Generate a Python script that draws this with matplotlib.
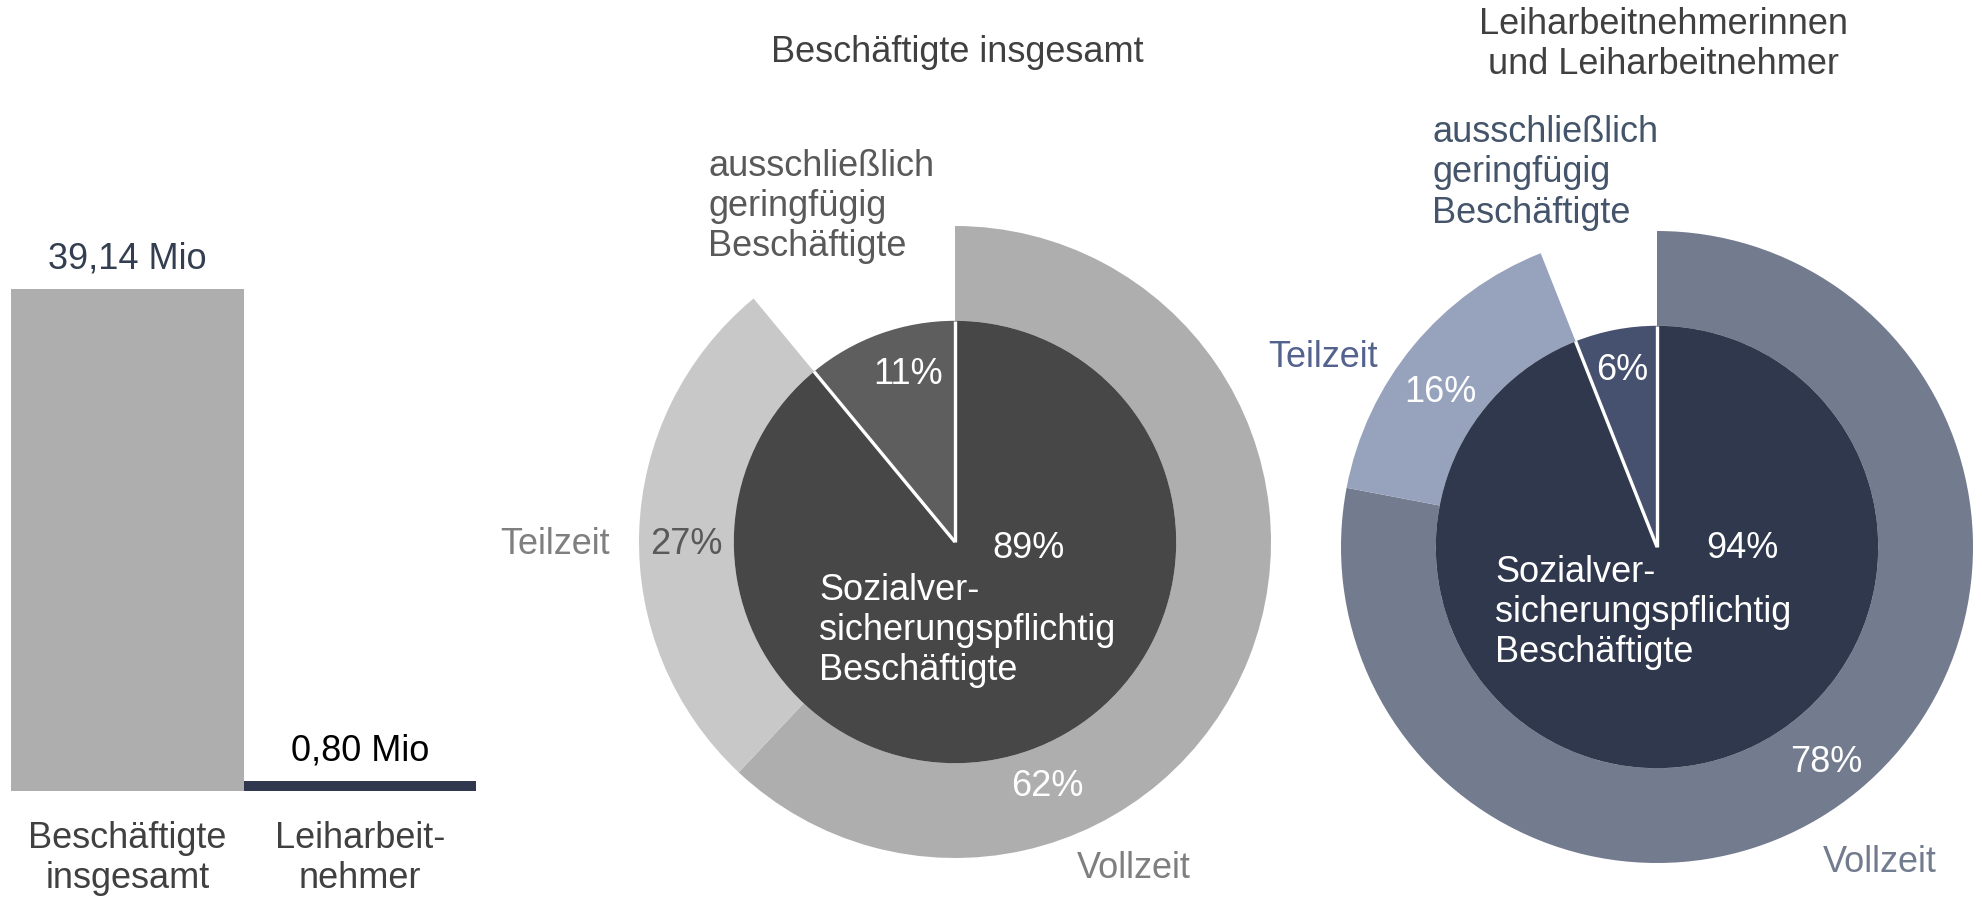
import matplotlib.pyplot as plt
import numpy as np

plt.rcParams['font.family'] = ['Liberation Sans', 'DejaVu Sans']

# Daten
bar_labels = ['Beschäftigte\ninsgesamt', 'Leiharbeit-\nnehmer']
bar_values = [39.14, 0.80]
bar_texts = ['39,14 Mio', '0,80 Mio']

titel_1 = 'Beschäftigte insgesamt'
innen_1 = [89, 11]      # sozialversicherungspflichtig, ausschließlich geringfügig
aussen_1 = [62, 27]     # Vollzeit, Teilzeit

titel_2 = 'Leiharbeitnehmerinnen\nund Leiharbeitnehmer'
innen_2 = [94, 6]
aussen_2 = [78, 16]

W, H = 1982, 901
ZEILE = 40  # Zeilenabstand in Pixeln
fig = plt.figure(figsize=(W / 100, H / 100), dpi=100)


def px_text(x, y, s, **kw):
    # mehrzeilige Texte zeilenweise setzen, y = Mitte des Blocks
    kw.setdefault('fontsize', 26)
    kw.setdefault('ha', 'center')
    kw.setdefault('va', 'center')
    zeilen = s.split('\n')
    y0 = y - ZEILE * (len(zeilen) - 1) / 2
    for k, z in enumerate(zeilen):
        fig.text(x / W, 1 - (y0 + k * ZEILE) / H, z, **kw)


# Balken links
ax = fig.add_axes([11 / W, (H - 791) / H, (476 - 11) / W, (791 - 289) / H])
x = np.arange(len(bar_values))
ax.bar(x, bar_values, width=1.0, color=['#AEAEAE', '#30384D'])
ax.set_xlim(-0.5, 1.5)
ax.set_ylim(0, max(bar_values))
ax.axis('off')
for i, (v, t) in enumerate(zip(bar_values, bar_texts)):
    farbe = '#333F50' if i == 0 else 'black'
    ax.annotate(t, (i, v), xytext=(0, 30), textcoords='offset pixels',
                ha='center', va='center', fontsize=26, color=farbe, annotation_clip=False)
    for k, z in enumerate(bar_labels[i].split('\n')):
        ax.annotate(z, (i, 0), xytext=(0, -47 - k * ZEILE), textcoords='offset pixels',
                    ha='center', va='center', fontsize=26, color='#404040',
                    annotation_clip=False)

R_IN = 0.70


def donut(cx, cy, innen, aussen, farben_innen, farben_aussen):
    r = 316
    pax = fig.add_axes([(cx - r) / W, (H - cy - r) / H, 2 * r / W, 2 * r / H])
    rest = 100 - sum(aussen)
    pax.pie(aussen + [rest], radius=1.0, startangle=90, counterclock=False,
            colors=farben_aussen + ['none'],
            wedgeprops=dict(width=1 - R_IN, linewidth=0))
    pax.pie(innen, radius=R_IN, startangle=90, counterclock=False,
            colors=farben_innen, wedgeprops=dict(linewidth=0))
    # weiße Trennlinien zwischen den inneren Segmenten
    grenzen = np.concatenate([[0], np.cumsum(innen)[:-1]])
    for g in grenzen:
        a = np.deg2rad(90 - 360 * g / 100)
        pax.plot([0, R_IN * np.cos(a)], [0, R_IN * np.sin(a)], color='white',
                 lw=2.4, solid_capstyle='butt')
    pax.set_xlim(-1, 1)
    pax.set_ylim(-1, 1)
    pax.axis('off')


donut(955, 542, innen_1, aussen_1, ['#474747', '#5E5E5E'], ['#AEAEAE', '#C8C8C8'])
donut(1657, 547, innen_2, aussen_2, ['#30384D', '#465170'], ['#737B8F', '#97A3BD'])

# Beschriftungen Kreis 1
px_text(957, 53, titel_1, color='#404040')
px_text(708, 206, 'ausschließlich\ngeringfügig\nBeschäftigte', ha='left', color='#595959')
px_text(908, 374, f'{innen_1[1]}%', color='white')
px_text(1028, 549, f'{innen_1[0]}%', color='white')
px_text(819, 631, 'Sozialver-\nsicherungspflichtig\nBeschäftigte', ha='left', color='white')
px_text(686, 545, f'{aussen_1[1]}%', color='#595959')
px_text(555, 545, 'Teilzeit', color='#7F7F7F')
px_text(1047, 786, f'{aussen_1[0]}%', color='white')
px_text(1134, 868, 'Vollzeit', color='#7F7F7F')

# Beschriftungen Kreis 2
px_text(1663, 44, titel_2, color='#404040')
px_text(1432, 173, 'ausschließlich\ngeringfügig\nBeschäftigte', ha='left', color='#44546A')
px_text(1323, 358, 'Teilzeit', color='#54628E')
px_text(1440, 392, f'{aussen_2[1]}%', color='white')
px_text(1622, 370, f'{innen_2[1]}%', color='white')
px_text(1742, 549, f'{innen_2[0]}%', color='white')
px_text(1495, 612, 'Sozialver-\nsicherungspflichtig\nBeschäftigte', ha='left', color='white')
px_text(1826, 763, f'{aussen_2[0]}%', color='white')
px_text(1880, 863, 'Vollzeit', color='#737B8F')

fig.savefig('out.png', dpi=100)
